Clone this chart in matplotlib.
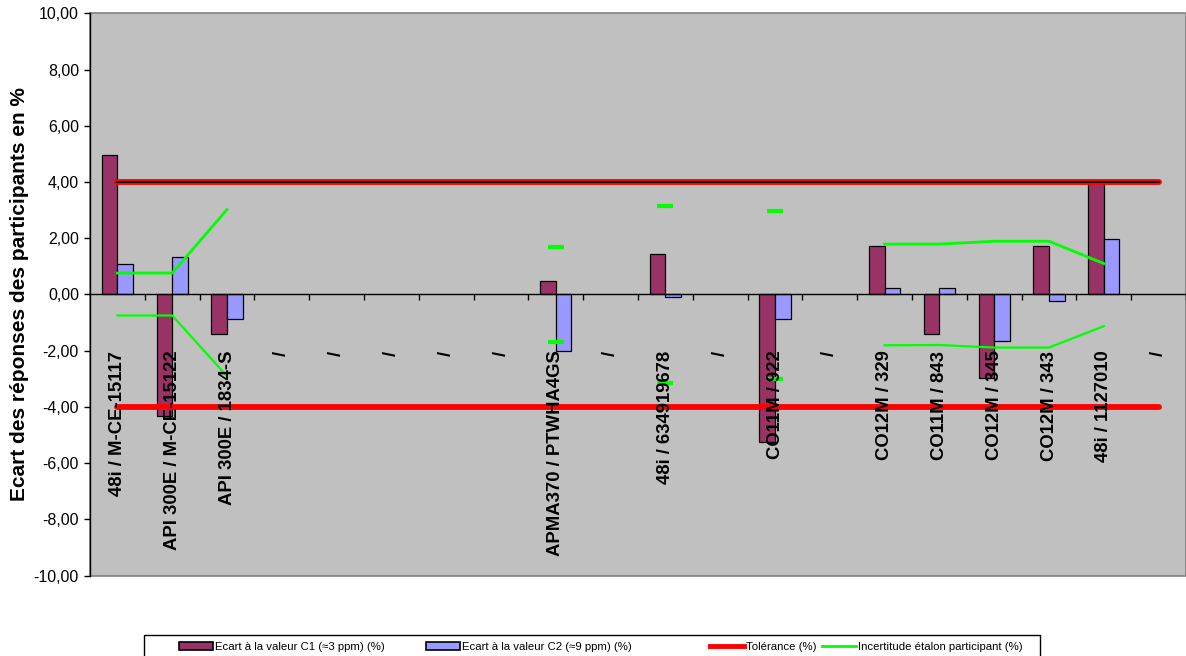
import numpy as np
import matplotlib
matplotlib.use("Agg")
import matplotlib.pyplot as plt
from matplotlib.patches import Patch, Rectangle
from matplotlib.lines import Line2D
from matplotlib.ticker import FuncFormatter, MultipleLocator

nan = np.nan

categories = ["48i / M-CE-15117", "API 300E / M-CE-15122", "API 300E / 1834-S",
              "/", "/", "/", "/", "/", "APMA370 / PTWHA4GS", "/",
              "48i / 634919678", "/", "CO11M / 922", "/", "CO12M / 329",
              "CO11M / 843", "CO12M / 345", "CO12M / 343", "48i / 1127010", "/"]

c1_values = [4.97, -4.34, -1.40, nan, nan, nan, nan, nan, 0.46, nan,
             1.45, nan, -5.24, nan, 1.72, -1.40, -2.99, 1.72, 3.98, nan]
c2_values = [1.09, 1.33, -0.88, nan, nan, nan, nan, nan, -2.00, nan,
             -0.11, nan, -0.88, nan, 0.24, 0.24, -1.64, -0.25, 1.96, nan]
tol_upper = [4.0] * 20
tol_lower = [-4.0] * 20
unc_upper = [0.76, 0.76, 3.02, nan, nan, nan, nan, nan, 1.69, nan,
             3.13, nan, 2.98, nan, 1.79, 1.79, 1.89, 1.89, 1.10, nan]
unc_lower = [-0.75, -0.75, -2.91, nan, nan, nan, nan, nan, -1.69, nan,
             -3.15, nan, -3.00, nan, -1.81, -1.80, -1.89, -1.89, -1.13, nan]

legend_labels = ["Ecart à la valeur C1 (\u22483 ppm) (%)",
                 "Ecart à la valeur C2 (\u22489 ppm) (%)",
                 "Tolérance (%)",
                 "Incertitude étalon participant (%)"]
ylabel = "Ecart des réponses des participants en %"

plt.rcParams['font.family'] = ['Liberation Sans', 'DejaVu Sans']

W, H = 1186, 656
fig = plt.figure(figsize=(W / 100, H / 100), dpi=100)
ax = fig.add_axes([90 / W, (H - 575.5) / H, (W - 90) / W, (575.5 - 13.3) / H])

n = len(categories)
x = np.arange(n) + 0.5
bw = 1 / 3.5

c1_col = '#993366'
c2_col = '#9999FF'
ax.bar(x - bw / 2, c1_values, bw, color=c1_col, edgecolor='black', linewidth=0.9, zorder=2)
ax.bar(x + bw / 2, c2_values, bw, color=c2_col, edgecolor='black', linewidth=0.9, zorder=2)

# tolerance lines
ax.plot(x, tol_upper, color='#FF0000', lw=4.2, solid_capstyle='round', zorder=3)
ax.plot(x, tol_upper, color='black', lw=1.4, zorder=3.1)
ax.plot(x, tol_lower, color='#FF0000', lw=4.2, solid_capstyle='round', zorder=3)

# uncertainty lines
green = '#00FF00'
for vals, lw in ((unc_upper, 2.0), (unc_lower, 1.6)):
    v = np.array(vals, dtype=float)
    ax.plot(x, v, color=green, lw=lw, zorder=4)
    iso = []
    for i in range(n):
        if np.isnan(v[i]):
            continue
        left = i == 0 or np.isnan(v[i - 1])
        right = i == n - 1 or np.isnan(v[i + 1])
        if left and right:
            iso.append(i)
    ax.plot(x[iso], v[iso], linestyle='none', marker='_', markersize=12,
            markeredgewidth=3, color=green, zorder=4)

ax.set_xlim(0, n)
ax.set_ylim(-10, 10)
ax.set_facecolor('#C0C0C0')
ax.patch.set_edgecolor('#808080')
ax.patch.set_linewidth(1.2)

for s in ('top', 'right'):
    ax.spines[s].set_visible(False)
ax.spines['left'].set_color('black')
ax.spines['left'].set_linewidth(1.0)
ax.spines['bottom'].set_position(('data', 0))
ax.spines['bottom'].set_color('black')
ax.spines['bottom'].set_linewidth(1.0)
ax.spines['bottom'].set_zorder(2.5)

ax.set_xticks(np.arange(1, n + 1))
ax.set_xticklabels([])
ax.tick_params(axis='x', direction='out', length=4, width=1, color='black')
ax.yaxis.set_major_locator(MultipleLocator(2))
ax.yaxis.set_major_formatter(FuncFormatter(lambda v, p: f"{v:.2f}".replace('.', ',')))
ax.tick_params(axis='y', direction='out', length=4, width=1, labelsize=11.5, pad=4)

for xi, lab in zip(x, categories):
    ax.text(xi, -2.0, lab, rotation=90, ha='center', va='top', fontsize=13.3,
            fontweight='bold', zorder=6)

ax.set_ylabel(ylabel, fontsize=15, fontweight='bold', labelpad=3)

# legend frame
fig.add_artist(Rectangle((144 / W, -0.02), (1040 - 144) / W, (H - 634.7) / H + 0.02,
                         transform=fig.transFigure, facecolor='white',
                         edgecolor='black', linewidth=1.0, zorder=1))

handles = [Patch(facecolor=c1_col, edgecolor='black', linewidth=1.2),
           Patch(facecolor=c2_col, edgecolor='black', linewidth=1.2),
           Line2D([], [], color='#FF0000', lw=3.5),
           Line2D([], [], color=green, lw=2)]
entry_x = [179, 426, 710, 822]
for h, lab, ex in zip(handles, legend_labels, entry_x):
    lg = fig.legend([h], [lab], loc='center left',
                    bbox_to_anchor=(ex / W, (H - 647) / H), fontsize=8.2,
                    frameon=False, handlelength=3.0, handleheight=0.7,
                    handletextpad=0.15, borderpad=0, borderaxespad=0)
    lg.set_zorder(2)

fig.savefig('out.png', dpi=100, facecolor='white')
